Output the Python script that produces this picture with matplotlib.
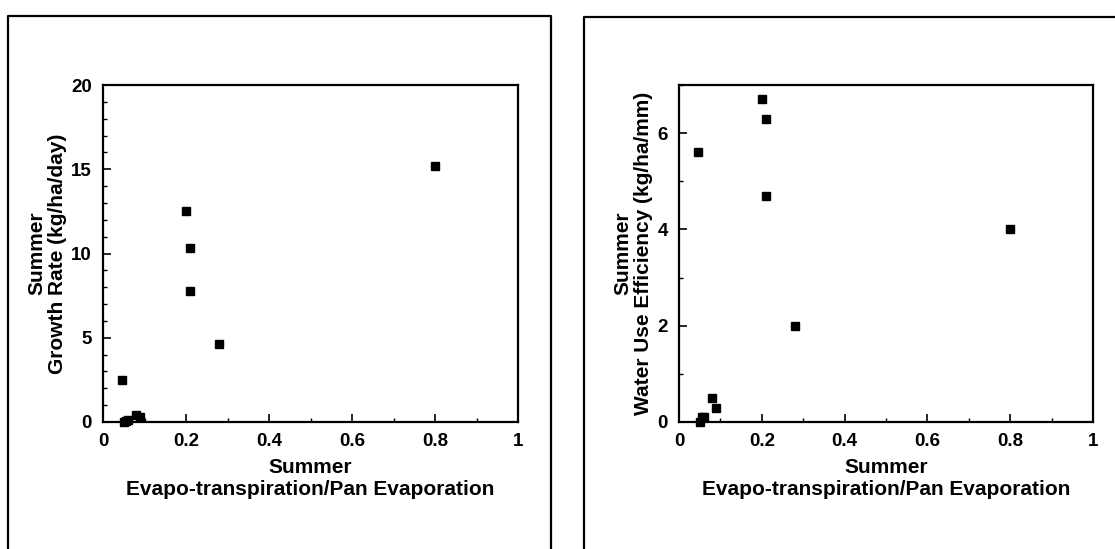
import matplotlib
matplotlib.use('Agg')
import matplotlib.pyplot as plt
from matplotlib.lines import Line2D

plt.rcParams['font.family'] = ['Liberation Sans', 'DejaVu Sans']
plt.rcParams['font.weight'] = 'bold'

# ET / pan evaporation ratio for each site (shared by both panels)
et_ratio = [0.045, 0.05, 0.055, 0.06, 0.08, 0.09, 0.2, 0.21, 0.21, 0.28, 0.8]
growth_rate = [2.5, 0.0, 0.05, 0.1, 0.4, 0.3, 12.5, 10.3, 7.8, 4.6, 15.2]
water_use_eff = [5.6, 0.0, 0.1, 0.1, 0.5, 0.3, 6.7, 6.3, 4.7, 2.0, 4.0]

xticks = [0, 0.2, 0.4, 0.6, 0.8, 1]
xtick_labels = ['0', '0.2', '0.4', '0.6', '0.8', '1']
growth_ticks = [0, 5, 10, 15, 20]
wue_ticks = [0, 2, 4, 6]

xlabel = 'Summer\nEvapo-transpiration/Pan Evaporation'

W, H = 1115, 549
fig = plt.figure(figsize=(W / 100, H / 100), dpi=100)


def px_line(xs, ys):
    fig.add_artist(Line2D([x / W for x in xs], [1 - y / H for y in ys],
                          transform=fig.transFigure, color='black', lw=1.6))


# panel frames
px_line([8, 8, 551, 551], [549, 16, 16, 549])
px_line([584, 584, 1115], [549, 17, 17])


def style_axes(ax, ylim, yticks, ylabel):
    ax.set_xlim(0, 1)
    ax.set_ylim(*ylim)
    ax.set_xticks(xticks)
    ax.set_xticklabels(xtick_labels)
    ax.set_xticks([i / 10 for i in range(11)], minor=True)
    ax.set_yticks(yticks)
    ax.set_yticks(range(int(ylim[1]) + 1), minor=True)
    ax.tick_params(direction='in', which='major', length=6, width=1.2,
                   labelsize=13.5)
    ax.tick_params(axis='x', which='major', pad=8)
    ax.tick_params(axis='y', which='major', pad=8)
    ax.tick_params(direction='in', which='minor', length=3, width=1)
    for s in ax.spines.values():
        s.set_linewidth(1.6)
    ax.set_xlabel(xlabel, fontsize=15, fontweight='bold', labelpad=6,
                  linespacing=1.2)
    ax.set_ylabel(ylabel, fontsize=15, fontweight='bold', labelpad=3,
                  linespacing=1.1)


ax1 = fig.add_axes([103 / W, 1 - 422 / H, 415 / W, 337 / H])
ax1.plot(et_ratio, growth_rate, 's', color='black', ms=5.5, clip_on=False)
style_axes(ax1, (0, 20), growth_ticks, 'Summer\nGrowth Rate (kg/ha/day)')

ax2 = fig.add_axes([679 / W, 1 - 422 / H, 414 / W, 337 / H])
ax2.plot(et_ratio, water_use_eff, 's', color='black', ms=5.5, clip_on=False)
style_axes(ax2, (0, 7), wue_ticks, 'Summer\nWater Use Efficiency (kg/ha/mm)')

fig.savefig('out.png', dpi=100)
